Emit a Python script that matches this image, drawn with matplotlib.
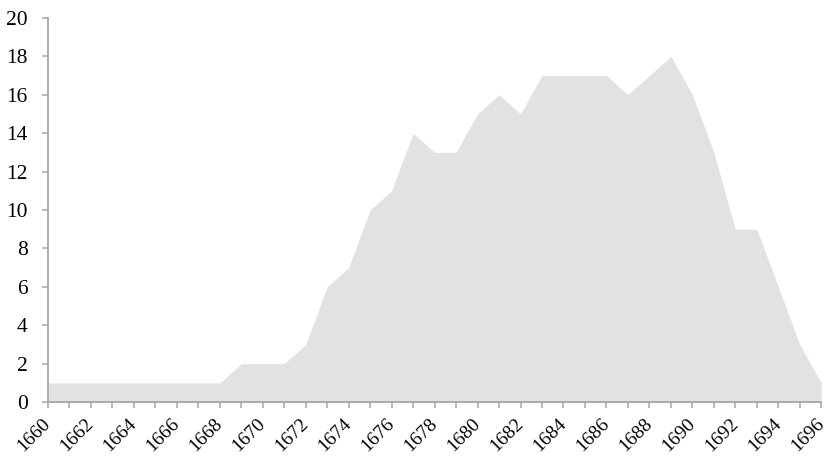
import matplotlib
matplotlib.use("Agg")
import matplotlib.pyplot as plt

years = list(range(1660, 1697))
counts = [1, 1, 1, 1, 1, 1, 1, 1, 1, 2, 2, 2, 3, 6, 7, 10, 11, 14, 13, 13,
          15, 16, 15, 17, 17, 17, 17, 16, 17, 18, 16, 13, 9, 9, 6, 3, 1]
y_ticks = list(range(0, 21, 2))

plt.rcParams['font.family'] = ['Liberation Serif', 'DejaVu Serif']

fig = plt.figure(figsize=(8.27, 4.57), dpi=100)
ax = fig.add_axes([0.058, 0.120, 0.935, 0.841])

ax.fill_between(years, counts, 0, color='#e2e2e2', linewidth=0)

ax.set_xlim(1660, 1696)
ax.set_ylim(0, 20)
ax.set_yticks(y_ticks)
ax.set_xticks(years)
# only even years get a label
ax.set_xticklabels([str(y) if (y - 1660) % 2 == 0 else '' for y in years])

axis_color = '#a6a6a6'
for side in ['top', 'right']:
    ax.spines[side].set_visible(False)
for side in ['left', 'bottom']:
    ax.spines[side].set_color(axis_color)
    ax.spines[side].set_linewidth(1.3)

ax.tick_params(axis='both', colors=axis_color, length=4.5, width=1.1,
               labelcolor='black', labelsize=15.5)
ax.tick_params(axis='y', pad=10)
ax.tick_params(axis='x', pad=9, labelsize=14)
for lbl in ax.get_xticklabels():
    lbl.set_rotation(45)
    lbl.set_ha('right')
    lbl.set_va('center')
    lbl.set_rotation_mode('anchor')

fig.savefig('out.png', dpi=100)
